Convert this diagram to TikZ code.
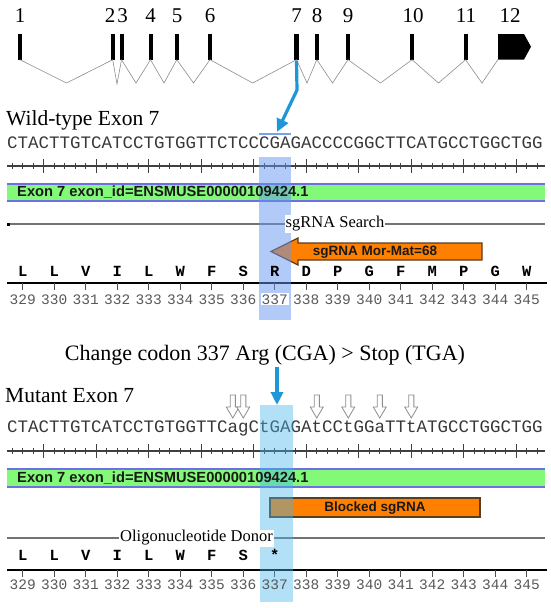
\documentclass[tikz,border=0pt]{standalone}
\usepackage{fontspec}
\setmainfont{Liberation Serif}
\newfontfamily\monofont{Liberation Mono}
\newfontfamily\arialfont{Liberation Sans}
\usetikzlibrary{arrows.meta}
\definecolor{arrowblue}{RGB}{30,150,215}
\definecolor{exongreen}{RGB}{130,250,120}
\definecolor{exonborder}{RGB}{110,110,230}
\definecolor{sgorange}{RGB}{255,128,0}
\definecolor{sgborder}{RGB}{90,60,30}
\definecolor{wthlc}{RGB}{100,150,240}
\definecolor{muthlc}{RGB}{70,180,235}
\definecolor{bracketc}{RGB}{120,160,240}
\tikzset{
  exonbar/.style={fill=black, inner sep=0pt, minimum width=4pt, minimum height=25.5pt},
  intron/.style={draw=black!45, line width=0.6pt},
  exnum/.style={font=\fontsize{21}{21}\selectfont, inner sep=0pt, anchor=base},
  bluearr/.style={draw=arrowblue, line width=3.2pt, line join=round, -{Triangle[length=13pt,width=12pt]}},
  heading/.style={font=\fontsize{21.5}{22}\selectfont, inner sep=0pt, anchor=base west},
  seqtext/.style={font=\monofont\fontsize{17.5}{18}\selectfont, inner sep=0pt, anchor=base west, text=black!78},
  rulerline/.style={draw=black!75, line width=1.2pt},
  tickmark/.style={draw=black!75, line width=1pt},
  bartext/.style={font=\arialfont\bfseries\fontsize{13.5}{14}\selectfont, inner sep=0pt, text=black!90},
  exontext/.style={font=\arialfont\bfseries\fontsize{14.7}{15}\selectfont, inner sep=0pt, text=black!90, anchor=west},
  trackline/.style={draw=black!55, line width=1.8pt},
  tracklabel/.style={font=\fontsize{16.5}{17}\selectfont, fill=white, inner sep=1pt},
  aa/.style={font=\monofont\bfseries\fontsize{15.5}{16}\selectfont, inner sep=0pt, anchor=base},
  axisline/.style={draw=black, line width=2.4pt},
  axtick/.style={draw=black!70, line width=1.2pt},
  num/.style={font=\monofont\fontsize{14.5}{15}\selectfont, inner sep=1pt, anchor=base, text=black!65},
  hollow/.style={draw=black!45, fill=white, line width=0.8pt},
  sgbox/.style={fill=sgorange, draw=sgborder, line width=1.3pt},
}
\begin{document}
\begin{tikzpicture}[x=1pt,y=-1pt]
\useasboundingbox (0,0) rectangle (550,608);

% ---------- gene structure ----------
\node[exonbar] (e1) at (20,46.75) {};
\node[exonbar] (e2) at (112.7,46.75) {};
\node[exonbar] (e3) at (121.5,46.75) {};
\node[exonbar] (e4) at (150.5,46.75) {};
\node[exonbar] (e5) at (176.8,46.75) {};
\node[exonbar] (e6) at (210,46.75) {};
\node[exonbar, minimum width=5pt] (e7) at (296.5,46.75) {};
\node[exonbar] (e8) at (316.8,46.75) {};
\node[exonbar] (e9) at (348,46.75) {};
\node[exonbar] (e10) at (412,46.75) {};
\node[exonbar] (e11) at (465.5,46.75) {};
\fill (498,34) -- (524,34) -- (531,46.75) -- (524,59.5) -- (498,59.5) -- cycle;
\coordinate (e12) at (498,59.5);

\node[exnum] (n1) at (20,22) {1};
\node[exnum] (n2) at (110,22) {2};
\node[exnum] (n3) at (122.5,22) {3};
\node[exnum] (n4) at (150.5,22) {4};
\node[exnum] (n5) at (177,22) {5};
\node[exnum] (n6) at (210,22) {6};
\node[exnum] (n7) at (296.5,22) {7};
\node[exnum] (n8) at (317,22) {8};
\node[exnum] (n9) at (348,22) {9};
\node[exnum] (n10) at (413,22) {10};
\node[exnum] (n11) at (466,22) {11};
\node[exnum] (n12) at (510,22) {12};

\draw[intron] (e1.south) -- (66.5,83) -- (e2.south);
\draw[intron] (e2.south) -- (117,84) -- (e3.south);
\draw[intron] (e3.south) -- (136,83) -- (e4.south);
\draw[intron] (e4.south) -- (164,83) -- (e5.south);
\draw[intron] (e5.south) -- (193.5,83) -- (e6.south);
\draw[intron] (e6.south) -- (252.7,83) -- (e7.south);
\draw[intron] (e7.south) -- (307,83) -- (e8.south);
\draw[intron] (e8.south) -- (332.5,83) -- (e9.south);
\draw[intron] (e9.south) -- (380.5,83) -- (e10.south);
\draw[intron] (e10.south) -- (438.5,83) -- (e11.south);
\draw[intron] (e11.south) -- (482,83) -- (e12);

% ---------- wild type ----------
\coordinate (bend) at (297,90);
\coordinate (wtcodon) at (277,132);
\draw[bluearr] ([yshift=-1pt]e7.south) -- (bend) -- (wtcodon);

\node[heading] (wthead) at (6,125) {Wild-type Exon 7};
\draw[draw=bracketc, line width=1.5pt] (259,134) -- (291,134);
\node[seqtext] (wtseq) at (7,148) {CTACTTGTCATCCTGTGGTTCTCCCGAGACCCCGGCTTCATGCCTGGCTGG};

\draw[rulerline] (7,166) -- (545,166);
\foreach \i in {1,...,51} \draw[tickmark] ({7+(\i-0.5)*10.5},163) -- ++(0,6);
\foreach \i in {4,9,...,49} \draw[tickmark] ({7+(\i-0.5)*10.5},159) -- ++(0,14);

\fill[exongreen] (7,184) rectangle (545,200.5);
\draw[exonborder, line width=2pt] (7,184) -- (545,184) (7,200.5) -- (545,200.5);

\draw[trackline] (8,224) -- (545,224);
\fill[black] (6.5,222.5) rectangle (9.5,225.5);

\draw[sgbox] (271,251.5) -- (298,238) -- (298,243) -- (482,243) -- (482,260) -- (298,260) -- (298,265) -- cycle;

\draw[axisline] (7,283) -- (547,283);
\foreach \k in {0,...,16} \draw[axtick] ({22.75+31.5*\k},283) -- ++(0,7);

\fill[wthlc, opacity=0.5] (259,157) rectangle (291,320);

\node[exontext] (wtexon) at (17,192.3) {Exon 7 exon\_id=ENSMUSE00000109424.1};
\node[tracklabel] (wtsearch) at (335,224) {sgRNA Search};
\node[bartext] (wtsg) at (375,252) {sgRNA Mor-Mat=68};
\foreach \a [count=\k from 0] in {L,L,V,I,L,W,F,S,R,D,P,G,F,M,P,G,W}
  \node[aa] (wa\k) at ({22.75+31.5*\k},276) {\a};
\foreach \k in {0,...,7,9,10,...,16}
  \node[num] (wn\k) at ({22.75+31.5*\k},304) {\pgfmathparse{int(329+\k)}\pgfmathresult};
\node[num, fill=white] (wn8) at (274.75,304) {337};

% ---------- change ----------
\node[font=\fontsize{22}{22}\selectfont, inner sep=0pt, anchor=base] (change) at (265,360) {Change codon 337 Arg (CGA) > Stop (TGA)};

% ---------- mutant ----------
\node[heading] (muthead) at (5,402) {Mutant Exon 7};
\coordinate (mtop) at (277,367);
\coordinate (mcodon) at (277,405);
\draw[bluearr] (mtop) -- (mcodon);

\foreach \x in {232.75,243.25,316.75,348.25,379.75,411.25}
  \draw[hollow] (\x-2.6,395) -- (\x+2.6,395) -- (\x+2.6,407) -- (\x+6.5,407) -- (\x,418) -- (\x-6.5,407) -- (\x-2.6,407) -- cycle;

\node[seqtext] (mutseq) at (7,432) {CTACTTGTCATCCTGTGGTTCagCtGAGAtCCtGGaTTtATGCCTGGCTGG};

\draw[rulerline] (7,451) -- (545,451);
\foreach \i in {1,...,51} \draw[tickmark] ({7+(\i-0.5)*10.5},448) -- ++(0,6);
\foreach \i in {4,9,...,49} \draw[tickmark] ({7+(\i-0.5)*10.5},444) -- ++(0,14);

\fill[exongreen] (7,469) rectangle (545,486.5);
\draw[exonborder, line width=2pt] (7,469) -- (545,469) (7,486.5) -- (545,486.5);

\draw[sgbox] (270,498) rectangle (480,517);

\draw[trackline] (7,538) -- (545,538);

\draw[axisline] (7,570) -- (547,570);
\foreach \k in {0,...,16} \draw[axtick] ({22.75+31.5*\k},570) -- ++(0,7);

\fill[muthlc, opacity=0.42] (260,405) rectangle (293,602);

\node[exontext] (mutexon) at (17,477.8) {Exon 7 exon\_id=ENSMUSE00000109424.1};
\node[bartext] (blocked) at (375,508) {Blocked sgRNA};
\node[tracklabel] (donor) at (196.5,538) {Oligonucleotide Donor};
\foreach \a [count=\k from 0] in {L,L,V,I,L,W,F,S,*}
  \node[aa] (ma\k) at ({22.75+31.5*\k},560) {\a};
\foreach \k in {0,...,16}
  \node[num] (mn\k) at ({22.75+31.5*\k},589) {\pgfmathparse{int(329+\k)}\pgfmathresult};
\end{tikzpicture}
\end{document}
